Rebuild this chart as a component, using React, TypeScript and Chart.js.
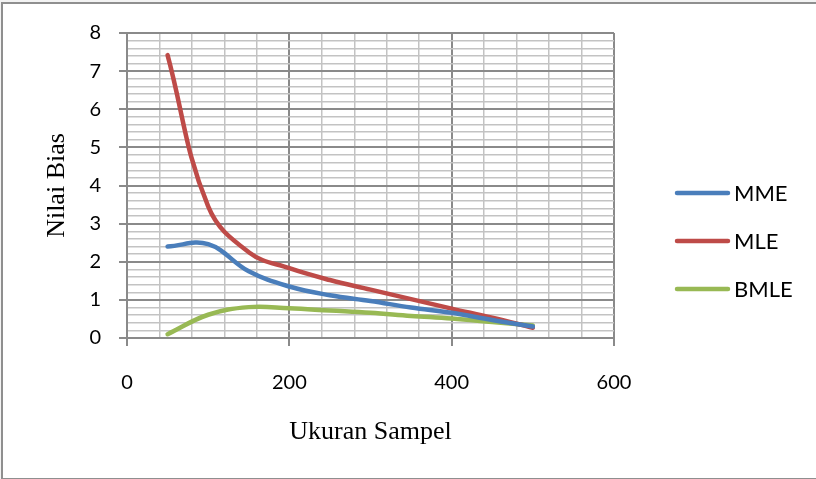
import React, { useEffect, useRef } from "react";
import { Chart, registerables } from "chart.js";

Chart.register(...registerables);

// ---- data ----
const sampleSizes = [50, 100, 150, 200, 250, 300, 350, 400, 450, 500];
const mmeValues = [2.4, 2.46, 1.75, 1.35, 1.12, 0.97, 0.8, 0.66, 0.47, 0.3];
const mleValues = [7.42, 3.45, 2.25, 1.83, 1.52, 1.27, 1.02, 0.77, 0.53, 0.27];
const bmleValues = [0.1, 0.61, 0.81, 0.78, 0.72, 0.66, 0.58, 0.51, 0.42, 0.33];
const seriesNames = ["MME", "MLE", "BMLE"];
const seriesColors = ["#4a7ebb", "#be4b48", "#98b954"];
const xTitle = "Ukuran Sampel";
const yTitle = "Nilai Bias";

const MAJOR = "#8a8a8a";
const MINOR = "#c3c3c3";

const isMajorY = (v: number) => Math.abs(v - Math.round(v)) < 1e-6;
const isMajorX = (v: number) => Math.abs(v / 200 - Math.round(v / 200)) < 1e-6;

const sideLegend = {
  id: "sideLegend",
  afterDraw(chart: any) {
    const ctx = chart.ctx;
    chart.data.datasets.forEach((ds: any, i: number) => {
      const y = 193 + i * 48;
      ctx.save();
      ctx.strokeStyle = ds.borderColor;
      ctx.lineWidth = 4.5;
      ctx.lineCap = "round";
      ctx.beginPath();
      ctx.moveTo(677, y);
      ctx.lineTo(728, y);
      ctx.stroke();
      ctx.fillStyle = "#000";
      ctx.font = "22px Lato";
      ctx.textAlign = "left";
      ctx.textBaseline = "middle";
      ctx.fillText(ds.label, 734, y + 1);
      ctx.restore();
    });
  },
};

export default function App() {
  const canvasRef = useRef<HTMLCanvasElement | null>(null);

  useEffect(() => {
    if (!canvasRef.current) return;
    const mk = (vals: number[]) => sampleSizes.map((x, i) => ({ x, y: vals[i] }));
    const all = [mmeValues, mleValues, bmleValues];
    const chart = new Chart(canvasRef.current, {
      type: "line",
      data: {
        datasets: all.map((vals, i) => ({
          label: seriesNames[i],
          data: mk(vals),
          borderColor: seriesColors[i],
          backgroundColor: seriesColors[i],
          borderWidth: 4.5,
          borderCapStyle: "round",
          borderJoinStyle: "round",
          pointRadius: 0,
          pointHoverRadius: 0,
          tension: 0.4,
          fill: false,
        })),
      },
      options: {
        animation: false,
        responsive: false,
        maintainAspectRatio: false,
        events: [],
        layout: { padding: { top: 33, right: 202, bottom: 0, left: 0 } },
        plugins: { legend: { display: false }, tooltip: { enabled: false } },
        scales: {
          x: {
            type: "linear",
            min: 0,
            max: 600,
            afterFit: (s: any) => {
              s.height = 141;
            },
            ticks: {
              stepSize: 40,
              autoSkip: false,
              maxRotation: 0,
              padding: 25,
              color: "#000",
              font: { family: "Lato", size: 20 },
              callback: (v: any) => (isMajorX(Number(v)) ? String(Math.round(Number(v))) : ""),
            },
            grid: {
              color: (c: any) => (c.tick && isMajorX(c.tick.value) ? MAJOR : MINOR),
              tickColor: (c: any) => (c.tick && isMajorX(c.tick.value) ? MAJOR : "rgba(0,0,0,0)"),
              lineWidth: (c: any) => (c.tick && isMajorX(c.tick.value) ? 2 : 1.5),
              tickLength: 8,
              tickWidth: 2,
            },
            border: { display: true, color: MAJOR, width: 2 },
            title: {
              display: true,
              text: xTitle,
              color: "#000",
              font: { family: "Liberation Serif", size: 26 },
              padding: { top: 0, bottom: 31 },
            },
          },
          y: {
            type: "linear",
            min: 0,
            max: 8,
            afterFit: (s: any) => {
              s.width = 127;
            },
            ticks: {
              stepSize: 0.2,
              autoSkip: false,
              maxTicksLimit: 100,
              padding: 18,
              color: "#000",
              font: { family: "Lato", size: 20 },
              callback: (v: any) => (isMajorY(Number(v)) ? String(Math.round(Number(v))) : ""),
            },
            grid: {
              color: (c: any) => (c.tick && isMajorY(c.tick.value) ? MAJOR : MINOR),
              tickColor: (c: any) => (c.tick && isMajorY(c.tick.value) ? MAJOR : "rgba(0,0,0,0)"),
              lineWidth: (c: any) => (c.tick && isMajorY(c.tick.value) ? 2 : 1.5),
              tickLength: 8,
              tickWidth: 2,
            },
            border: { display: true, color: MAJOR, width: 2 },
            title: {
              display: true,
              text: yTitle,
              color: "#000",
              font: { family: "Liberation Serif", size: 26 },
              padding: { top: 42, bottom: 0 },
            },
          },
        },
      },
      plugins: [sideLegend],
    } as any);
    return () => chart.destroy();
  }, []);

  return (
    <div
      style={{
        position: "fixed",
        left: 0,
        top: 0,
        width: 816,
        height: 479,
        background: "#f3f3f3",
        overflow: "hidden",
      }}
    >
      <div
        style={{
          position: "absolute",
          left: 1,
          top: 2,
          width: 900,
          height: 474,
          background: "#fff",
          borderLeft: "2px solid #8f8f8f",
          borderTop: "2px solid #8f8f8f",
          borderBottom: "2px solid #8f8f8f",
        }}
      />
      <canvas
        ref={canvasRef}
        width={816}
        height={479}
        style={{ position: "absolute", left: 0, top: 0, width: 816, height: 479 }}
      />
    </div>
  );
}
